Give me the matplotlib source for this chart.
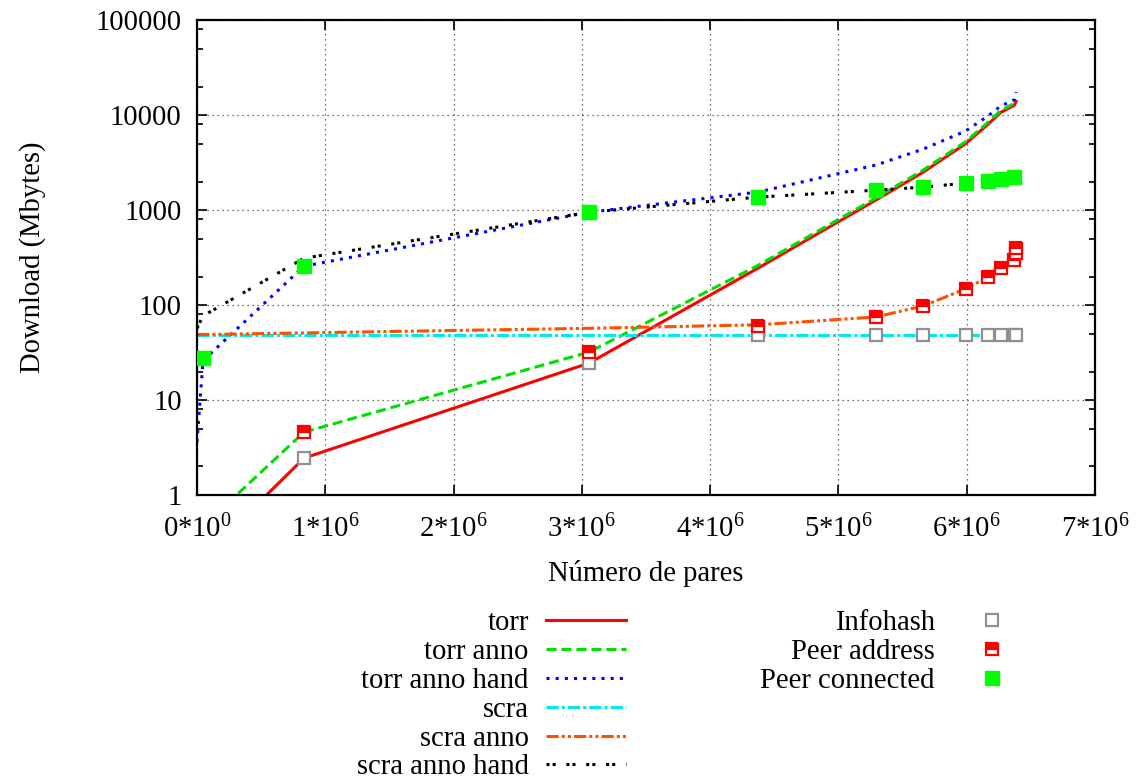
import matplotlib.pyplot as plt
from matplotlib.ticker import FixedLocator, LogLocator, NullFormatter, FuncFormatter

plt.rcParams['font.family'] = ['Liberation Serif', 'DejaVu Serif']
plt.rcParams['mathtext.fontset'] = 'custom'
plt.rcParams['mathtext.rm'] = 'Liberation Serif'
plt.rcParams['mathtext.it'] = 'Liberation Serif:italic'
plt.rcParams['font.size'] = 20.6

# numero de pares (x) shared by the curves
pares = [0, 0.047e6, 0.834e6, 3.055e6, 4.373e6, 5.29e6, 5.66e6, 5.99e6,
         6.165e6, 6.265e6, 6.37e6, 6.385e6]
torr = [0.1, 0.22, 2.45, 24.5, 245, 1274, 2510, 5000, 8000, 10700, 12700, 14000]
torr_anno = [0.25, 0.47, 4.6, 32, 262, 1340, 2640, 5250, 8400, 11200, 13300, 14400]
torr_anno_hand = [3.6, 26, 257, 950, 1550, 2980, 4390, 6800, 9800, 12500, 14500, 17500]
scra = [49, 49, 49, 49, 49, 49, 49, 49, 49, 49, 49, 49]
scra_anno = [49, 49, 51, 57, 62, 75, 98, 148, 198, 245, 295, 300]
scra_anno_hand = [57, 77, 312, 950, 1371, 1623, 1746, 1924, 2019, 2120, 2226, 2226]

# measured points
infohash_x = [0.834e6, 3.055e6, 4.373e6, 5.29e6, 5.66e6, 5.99e6, 6.165e6, 6.265e6, 6.37e6, 6.385e6]
infohash = [2.45, 24.5, 48.3, 48.3, 48.3, 48.3, 48.3, 48.3, 48.3, 48.3]
peer_addr_x = [0.834e6, 3.055e6, 4.373e6, 5.29e6, 5.66e6, 5.99e6, 6.165e6, 6.265e6, 6.37e6, 6.38e6, 6.385e6]
peer_addr = [4.6, 32, 60, 75, 97.5, 147, 197, 245, 298, 350, 400]
peer_conn_x = [0.047e6, 0.834e6, 3.055e6, 4.373e6, 5.29e6, 5.66e6, 5.99e6, 6.165e6, 6.265e6, 6.37e6]
peer_conn = [27.7, 257, 952, 1371, 1623, 1746, 1924, 2019, 2120, 2226]

fig = plt.figure(figsize=(11.36, 7.76), dpi=100)
ax = fig.add_axes([0.1734, 0.362, 0.7906, 0.612])

lw = 2.2
l1, = ax.plot(pares, torr, color='#ff0000', lw=lw, ls='-', label='torr')
l2, = ax.plot(pares, torr_anno, color='#00e000', lw=lw, ls=(0, (3.3, 1.6)), label='torr anno')
l3, = ax.plot(pares, torr_anno_hand, color='#0000ff', lw=lw, ls=(0, (1, 2)), label='torr anno hand')
l4, = ax.plot(pares, scra, color='#00e8e8', lw=lw, ls=(0, (4, 1, 1, 1)), label='scra')
l5, = ax.plot(pares, scra_anno, color='#ff5000', lw=lw, ls=(0, (4, 1, 1, 1, 1, 1)), label='scra anno')
l6, = ax.plot(pares, scra_anno_hand, color='#000000', lw=lw, ls=(0, (1, 1, 1, 3.5)), label='scra anno hand')

m1, = ax.plot(infohash_x, infohash, ls='none', marker='s', ms=9, mfc='white',
              mec='#909090', mew=1.6, label='Infohash', zorder=5)
m2, = ax.plot(peer_addr_x, peer_addr, ls='none', marker='s', ms=9, fillstyle='top',
              mfc='#ff0000', mfcalt='white', mec='#ff0000', mew=1.6, label='Peer address', zorder=6)
m3, = ax.plot(peer_conn_x, peer_conn, ls='none', marker='s', ms=10, mfc='#00ff00',
              mec='#00ff00', label='Peer connected', zorder=7)

ax.set_yscale('log')
ax.set_xlim(0, 7e6)
ax.set_ylim(1, 100000)

ax.xaxis.set_major_locator(FixedLocator([0, 1e6, 2e6, 3e6, 4e6, 5e6, 6e6, 7e6]))
ax.xaxis.set_major_formatter(FuncFormatter(
    lambda v, p: '0*10$^{0}$' if v == 0 else '%d*10$^{6}$' % round(v / 1e6)))
ax.yaxis.set_major_locator(LogLocator(base=10, numticks=10))
ax.yaxis.set_minor_locator(LogLocator(base=10, subs=[2, 5, 8], numticks=10))
ax.yaxis.set_minor_formatter(NullFormatter())
ax.yaxis.set_major_formatter(FuncFormatter(lambda v, p: '%d' % round(v)))

ax.tick_params(which='both', direction='in', top=True, right=True, width=1.2)
ax.tick_params(which='major', length=7)
ax.tick_params(which='minor', length=4)
ax.tick_params(axis='x', which='major', pad=14)
ax.tick_params(axis='y', which='major', pad=11)
for s in ax.spines.values():
    s.set_linewidth(1.6)

ax.grid(True, which='major', ls=(0, (1, 3)), color='#444444', lw=0.9)

ax.set_xlabel('Número de pares', labelpad=12)
ax.set_ylabel('Download (Mbytes)', labelpad=36)

leg_kw = dict(frameon=False, markerfirst=False, handlelength=2.8, handletextpad=0.6,
              labelspacing=0.1, borderpad=0, borderaxespad=0)
fig.legend(handles=[l1, l2, l3, l4, l5, l6], loc='upper right',
           bbox_to_anchor=(626 / 1136, 1 - 610 / 776), **leg_kw)
fig.legend(handles=[m1, m2, m3], loc='upper right',
           bbox_to_anchor=(1032 / 1136, 1 - 610 / 776), **leg_kw)

fig.savefig('out.png', dpi=100)
